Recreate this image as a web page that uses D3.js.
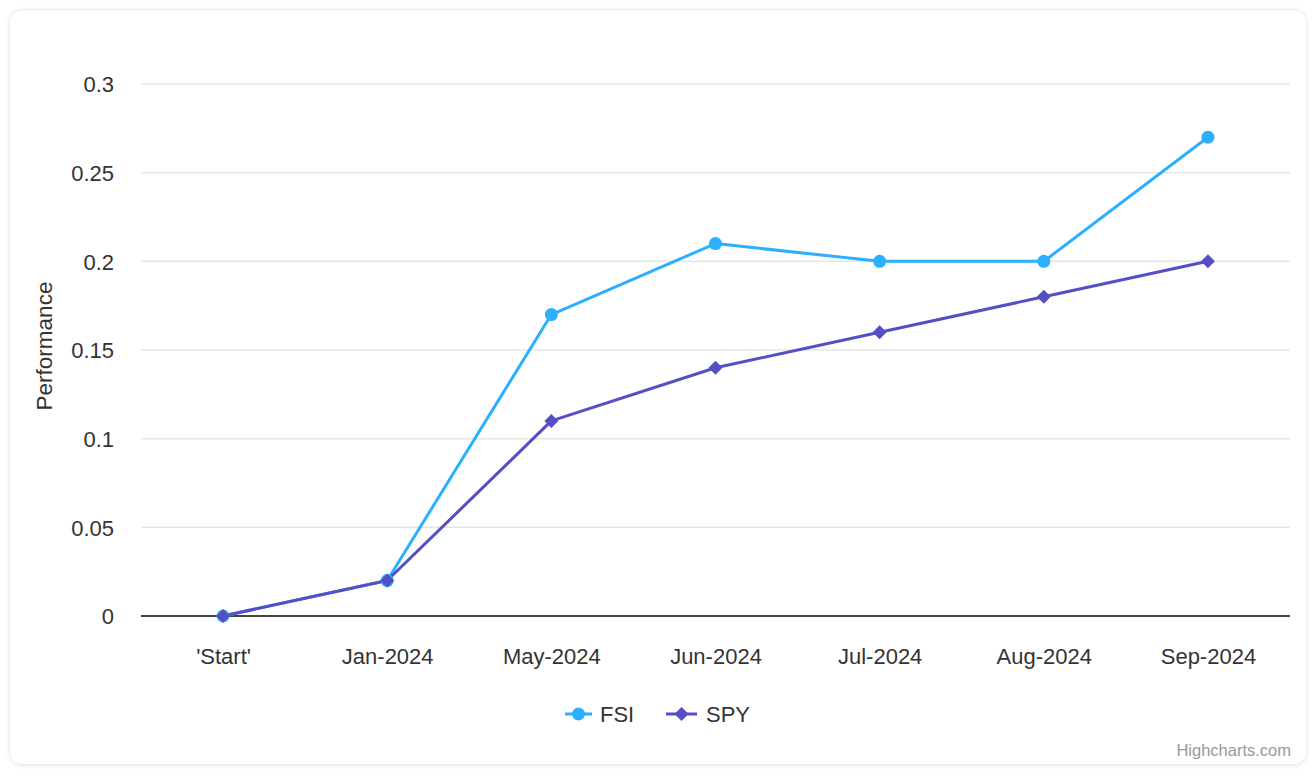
<!DOCTYPE html>
<html>
<head>
<meta charset="utf-8">
<script src="https://cdn.jsdelivr.net/npm/d3@7/dist/d3.min.js"></script>
<style>
  html, body { margin: 0; padding: 0; background: #ffffff; }
  svg { display: block; font-family: "Liberation Sans", Arial, Helvetica, sans-serif; }
</style>
</head>
<body>
<svg id="chart" width="1313" height="777"></svg>
<script>
const categories = ["'Start'", "Jan-2024", "May-2024", "Jun-2024", "Jul-2024", "Aug-2024", "Sep-2024"];
const fsiValues = [0, 0.02, 0.17, 0.21, 0.20, 0.20, 0.27];
const spyValues = [0, 0.02, 0.11, 0.14, 0.16, 0.18, 0.20];
const yTicks = [0, 0.05, 0.1, 0.15, 0.2, 0.25, 0.3];
const seriesNames = ["FSI", "SPY"];
const seriesColors = ["#2caffe", "#544fc5"];
const yTitle = "Performance";
const creditText = "Highcharts.com";

const W = 1313, H = 777;
const plot = { left: 141, right: 1290, top: 84, bottom: 616 };
const svg = d3.select("#chart");

// card
const defs = svg.append("defs");
const f = defs.append("filter").attr("id", "sh").attr("x", "-5%").attr("y", "-5%").attr("width", "110%").attr("height", "110%");
f.append("feDropShadow").attr("dx", 0).attr("dy", 1).attr("stdDeviation", 2).attr("flood-color", "#000").attr("flood-opacity", 0.08);
svg.append("rect").attr("x", 9.5).attr("y", 9.5).attr("width", 1297).attr("height", 755)
  .attr("rx", 12).attr("fill", "#fff").attr("stroke", "#ececec").attr("stroke-width", 1).attr("filter", "url(#sh)");

const x = d3.scalePoint().domain(categories).range([plot.left, plot.right]).padding(0.5);
const y = d3.scaleLinear().domain([0, 0.3]).range([plot.bottom, plot.top]);

// grid
svg.append("g").selectAll("line").data(yTicks.filter(t => t > 0)).join("line")
  .attr("x1", plot.left).attr("x2", plot.right)
  .attr("y1", d => y(d)).attr("y2", d => y(d))
  .attr("stroke", "#e6e6e6").attr("stroke-width", 1.5);

// y axis labels
const yAxis = d3.axisLeft(y).tickValues(yTicks).tickSize(0).tickPadding(0).tickFormat(d => String(+d.toFixed(2)));
const yg = svg.append("g").attr("transform", `translate(${plot.left - 27},0)`).call(yAxis);
yg.select(".domain").remove();
yg.selectAll("text").attr("font-size", 22).attr("fill", "#333").attr("font-family", "Liberation Sans, Arial, sans-serif").attr("dy", "0.35em");

// x axis
const xAxis = d3.axisBottom(x).tickSize(0).tickPadding(0);
const xg = svg.append("g").attr("transform", `translate(0,${plot.bottom})`).call(xAxis);
xg.select(".domain").attr("stroke", "#444").attr("stroke-width", 2).attr("d", `M${plot.left},0H${plot.right}`);
xg.selectAll("text").attr("font-size", 22).attr("fill", "#333").attr("font-family", "Liberation Sans, Arial, sans-serif").attr("y", 48).attr("dy", 0);

// y title
svg.append("text").attr("transform", `translate(52,${(plot.top + plot.bottom) / 2 - 4}) rotate(-90)`)
  .attr("text-anchor", "middle").attr("font-size", 22.5).attr("fill", "#333").text(yTitle);

// series
const line = d3.line().x((d, i) => x(categories[i])).y(d => y(d));
const allSeries = [fsiValues, spyValues];
const diamond = (cx, cy, r) => `M${cx},${cy - r}L${cx + r},${cy}L${cx},${cy + r}L${cx - r},${cy}Z`;

allSeries.forEach((vals, si) => {
  svg.append("path").datum(vals).attr("d", line).attr("fill", "none")
    .attr("stroke", seriesColors[si]).attr("stroke-width", 3).attr("stroke-linejoin", "round").attr("stroke-linecap", "round");
});
allSeries.forEach((vals, si) => {
  const g = svg.append("g");
  if (si === 0) {
    g.selectAll("circle").data(vals).join("circle")
      .attr("cx", (d, i) => x(categories[i])).attr("cy", d => y(d)).attr("r", 6.5).attr("fill", seriesColors[si]);
  } else {
    g.selectAll("path").data(vals).join("path")
      .attr("d", (d, i) => diamond(x(categories[i]), y(d), 7)).attr("fill", seriesColors[si]);
  }
});

// legend
const legendItems = [{ x: 565, tx: 600 }, { x: 666, tx: 706 }];
legendItems.forEach((it, si) => {
  const g = svg.append("g");
  const lw = si === 0 ? 27 : 31;
  g.append("line").attr("x1", it.x).attr("x2", it.x + lw).attr("y1", 714).attr("y2", 714)
    .attr("stroke", seriesColors[si]).attr("stroke-width", 3);
  const cx = it.x + lw / 2;
  if (si === 0) g.append("circle").attr("cx", cx).attr("cy", 714).attr("r", 6.5).attr("fill", seriesColors[si]);
  else g.append("path").attr("d", diamond(cx, 714, 7)).attr("fill", seriesColors[si]);
  g.append("text").attr("x", it.tx).attr("y", 714).attr("dy", "0.36em").attr("font-size", 22)
    .attr("fill", "#333").text(seriesNames[si]);
});

// credits
svg.append("text").attr("x", 1291).attr("y", 756).attr("text-anchor", "end").attr("font-size", 16.5)
  .attr("fill", "#999").text(creditText);
</script>
</body>
</html>
